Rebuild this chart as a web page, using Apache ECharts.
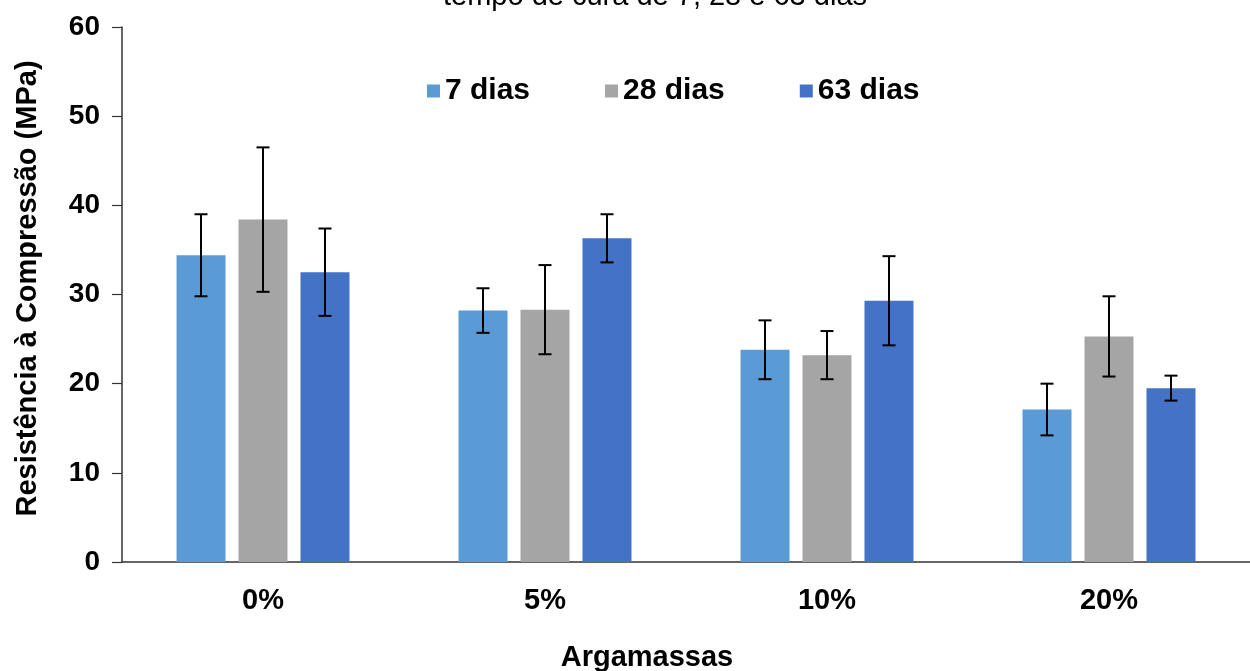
<!DOCTYPE html>
<html>
<head>
<meta charset="utf-8">
<script src="https://cdn.jsdelivr.net/npm/echarts@6/dist/echarts.min.js"></script>
<style>
  html, body { margin: 0; padding: 0; background: #fff; }
  #chart { width: 1250px; height: 671px; }
</style>
</head>
<body>
<div id="chart"></div>
<script>
// Argamassas (substituição) e resistência à compressão por idade de cura
const categories = ['0%', '5%', '10%', '20%'];
const seriesNames = ['7 dias', '28 dias', '63 dias'];
const yTicks = [0, 10, 20, 30, 40, 50, 60];

// Médias (MPa)
const dias7 = [34.4, 28.2, 23.8, 17.1];
const dias28 = [38.4, 28.3, 23.2, 25.3];
const dias63 = [32.5, 36.3, 29.3, 19.5];

// Desvio padrão (MPa)
const sd7 = [4.6, 2.5, 3.3, 2.9];
const sd28 = [8.1, 5.0, 2.7, 4.5];
const sd63 = [4.9, 2.7, 5.0, 1.4];

const colors = ['#5B9BD5', '#A5A5A5', '#4472C4'];
const means = [dias7, dias28, dias63];
const sds = [sd7, sd28, sd63];

const FONT = '"Liberation Sans", Arial, sans-serif';
const BAR_W = 49;
const BAR_GAP = 13;

const chart = echarts.init(document.getElementById('chart'), null, { renderer: 'canvas' });

// Barras de erro desenhadas com série custom, deslocadas para o centro de cada barra
function errorSeries(idx) {
  const data = categories.map((c, i) => [i, means[idx][i] - sds[idx][i], means[idx][i] + sds[idx][i]]);
  const offset = (idx - 1) * (BAR_W + BAR_GAP);
  return {
    type: 'custom',
    name: seriesNames[idx] + ' erro',
    silent: true,
    z: 10,
    data: data,
    renderItem: function (params, api) {
      const lo = api.coord([api.value(0), api.value(1)]);
      const hi = api.coord([api.value(0), api.value(2)]);
      const x = lo[0] + offset;
      const cap = 6.5;
      const style = { stroke: '#000', lineWidth: 2 };
      return {
        type: 'group',
        children: [
          { type: 'line', shape: { x1: x, y1: hi[1], x2: x, y2: lo[1] }, style: style },
          { type: 'line', shape: { x1: x - cap, y1: hi[1], x2: x + cap, y2: hi[1] }, style: style },
          { type: 'line', shape: { x1: x - cap, y1: lo[1], x2: x + cap, y2: lo[1] }, style: style }
        ]
      };
    }
  };
}

const barSeries = seriesNames.map((name, idx) => ({
  type: 'bar',
  name: name,
  data: means[idx],
  barWidth: BAR_W,
  barGap: (BAR_GAP / BAR_W * 100).toFixed(1) + '%',
  itemStyle: { color: colors[idx] }
}));

chart.setOption({
  animation: false,
  backgroundColor: '#fff',
  title: {
    text: 'tempo de cura de 7, 28 e 63 dias',
    left: 650,
    textAlign: 'center',
    top: -23,
    textStyle: { fontFamily: FONT, fontSize: 29, fontWeight: 'normal', color: '#000' }
  },
  legend: {
    data: seriesNames,
    top: 71,
    left: 422,
    itemWidth: 13,
    itemHeight: 13,
    itemGap: 75,
    icon: 'rect',
    textStyle: { fontFamily: FONT, fontSize: 30, fontWeight: 'bold', color: '#000' }
  },
  grid: { left: 122, right: 0, top: 27, bottom: 109, outerBoundsMode: 'none', containLabel: false },
  xAxis: {
    type: 'category',
    data: categories,
    name: 'Argamassas',
    nameLocation: 'middle',
    nameGap: 81,
    nameTextStyle: { fontFamily: FONT, fontSize: 29, fontWeight: 'bold', color: '#000', padding: [0, 78, 0, 0] },
    axisLine: { lineStyle: { color: '#333', width: 1.5 } },
    axisTick: { show: false },
    axisLabel: { fontFamily: FONT, fontSize: 29, fontWeight: 'bold', color: '#000', margin: 24 }
  },
  yAxis: {
    type: 'value',
    min: yTicks[0],
    max: yTicks[yTicks.length - 1],
    interval: 10,
    name: 'Resistência à Compressão (MPa)',
    nameLocation: 'middle',
    nameGap: 80,
    nameRotate: 90,
    nameTextStyle: { fontFamily: FONT, fontSize: 29, fontWeight: 'bold', color: '#000', padding: [0, 0, 0, 12] },
    splitLine: { show: false },
    axisLine: { show: true, lineStyle: { color: '#333', width: 1.5 } },
    axisTick: { show: true, length: 10, lineStyle: { color: '#333', width: 1.2 } },
    axisLabel: { fontFamily: FONT, fontSize: 28, fontWeight: 'bold', color: '#000', margin: 22 }
  },
  series: barSeries.concat([errorSeries(0), errorSeries(1), errorSeries(2)])
});
</script>
</body>
</html>
